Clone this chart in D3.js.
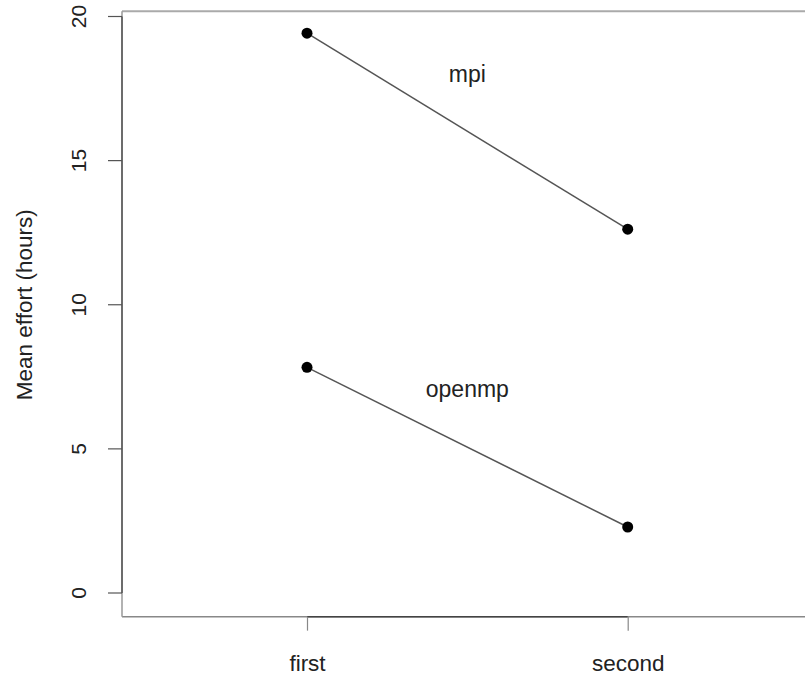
<!DOCTYPE html>
<html><head><meta charset="utf-8">
<script src="https://cdn.jsdelivr.net/npm/d3@7"></script>
<style>body{margin:0;background:#fff;} text{font-family:"Liberation Sans",Arial,sans-serif;}</style>
</head><body>
<svg id="c" width="805" height="675"></svg>
<script>
const categories = ["first", "second"];
const seriesNames = ["mpi", "openmp"];
const mpiValues = [19.42, 12.62];
const openmpValues = [7.83, 2.29];
const yTicks = [0, 5, 10, 15, 20];
const labelPos = [{name: "mpi", x: 1.5, y: 18}, {name: "openmp", x: 1.5, y: 7.07}];

const svg = d3.select("#c");
const x = d3.scaleLinear().domain([1, 2]).range([307, 627.7]);
const y = d3.scaleLinear().domain([0, 20]).range([593, 16.5]);
const boxLeft = 122, boxRight = 810, boxTop = y(20.18), boxBottom = y(-0.82);

// box (light)
svg.append("line").attr("x1", boxLeft).attr("x2", boxRight).attr("y1", boxTop).attr("y2", boxTop)
  .attr("stroke", "#aaa").attr("stroke-width", 2);
svg.append("line").attr("x1", boxLeft).attr("x2", boxRight).attr("y1", boxBottom).attr("y2", boxBottom)
  .attr("stroke", "#888").attr("stroke-width", 1.5);
svg.append("line").attr("x1", boxLeft).attr("x2", boxLeft).attr("y1", boxTop).attr("y2", boxBottom)
  .attr("stroke", "#999").attr("stroke-width", 1.5);

// y axis
const yAxis = d3.axisLeft(y).tickValues(yTicks).tickSize(14).tickFormat(d3.format("d"));
const gy = svg.append("g").attr("transform", `translate(${boxLeft},0)`).call(yAxis);
gy.select(".domain").attr("stroke", "#555").attr("stroke-width", 1.5).attr("d", `M0,${y(0)}V${y(20)}`);
gy.selectAll(".tick").attr("transform", null);
gy.selectAll(".tick line").attr("stroke", "#555").attr("stroke-width", 1.2)
  .each(function(d){ d3.select(this).attr("y1", y(d)).attr("y2", y(d)); });
gy.selectAll(".tick text").attr("font-size", 21).attr("fill", "#222").attr("font-family", null)
  .attr("text-anchor", "middle").attr("transform", "rotate(-90)").attr("dy", "0.35em")
  .each(function(d){ d3.select(this).attr("x", -y(d)).attr("y", 79 - boxLeft); });

// x axis
const xAxis = d3.axisBottom(x).tickValues([1, 2]).tickSize(14).tickPadding(0).tickFormat(d => categories[d - 1]);
const gx = svg.append("g").attr("transform", `translate(0,${boxBottom})`).call(xAxis);
gx.select(".domain").attr("stroke", "#444").attr("stroke-width", 1.5).attr("d", `M${x(1)},0H${x(2)}`);
gx.selectAll(".tick line").attr("stroke", "#888").attr("stroke-width", 1.2);
gx.selectAll(".tick text").attr("font-size", 22.5).attr("fill", "#222").attr("font-family", null)
  .attr("dy", null).attr("y", 671 - boxBottom);

// y title
svg.append("text").attr("transform", `translate(24,${y(10)}) rotate(-90)`).attr("text-anchor", "middle")
  .attr("dy", "0.35em").attr("font-size", 22.5).attr("fill", "#222").text("Mean effort (hours)");

// series
const series = [mpiValues, openmpValues];
series.forEach(vals => {
  const pts = vals.map((v, i) => [x(i + 1), y(v)]);
  svg.append("path").attr("d", d3.line()(pts)).attr("stroke", "#555").attr("stroke-width", 1.5).attr("fill", "none");
  svg.selectAll(null).data(pts).enter().append("circle")
    .attr("cx", d => d[0]).attr("cy", d => d[1]).attr("r", 5.5).attr("fill", "#000");
});

svg.selectAll(null).data(labelPos).enter().append("text")
  .attr("x", d => x(d.x)).attr("y", d => y(d.y)).attr("dy", "0.35em").attr("text-anchor", "middle")
  .attr("font-size", 23).attr("fill", "#222").text(d => d.name);
</script>
</body></html>
